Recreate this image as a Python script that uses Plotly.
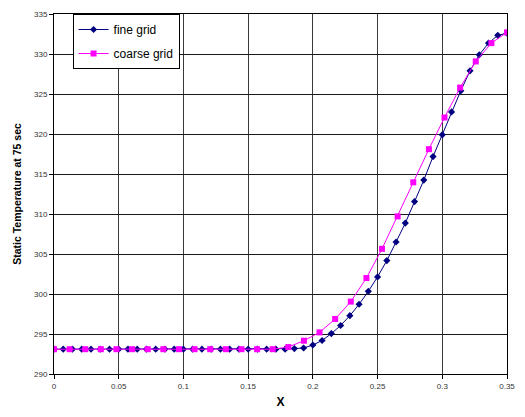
import plotly.graph_objects as go

# fine grid: 50 points, x = k/140
fine_x = [k / 140 for k in range(50)]
fine_y = [293.1] * 26 + [293.18, 293.25, 293.62, 294.19, 295.05, 296.06, 297.29, 298.72,
                         300.34, 302.14, 304.18, 306.5, 308.86, 311.55, 314.24, 317.18,
                         319.9, 322.76, 325.4, 327.9, 329.9, 331.36, 332.33, 332.6]

# coarse grid: 30 points, x = k*0.35/29
coarse_x = [k * 0.35 / 29 for k in range(30)]
coarse_y = [293.1] * 15 + [293.37, 294.16, 295.2, 296.88, 299.05, 302.0, 305.65, 309.7,
                           313.96, 318.1, 322.06, 325.8, 329.07, 331.36, 332.7]

x_ticks = [0, 0.05, 0.1, 0.15, 0.2, 0.25, 0.3, 0.35]
x_tick_labels = ["0", "0.05", "0.1", "0.15", "0.2", "0.25", "0.3", "0.35"]
y_ticks = list(range(290, 336, 5))

fig = go.Figure()
fig.add_trace(go.Scatter(
    x=fine_x, y=fine_y, mode="lines+markers", name="fine grid",
    line=dict(color="#000080", width=1),
    marker=dict(symbol="diamond", size=5.5, color="#000080"),
    legendgroup="a"))
fig.add_trace(go.Scatter(
    x=coarse_x, y=coarse_y, mode="lines+markers", name="coarse grid",
    line=dict(color="#FF00FF", width=1),
    marker=dict(symbol="square", size=6, color="#FF00FF"),
    legendgroup="b"))

font_family = "Liberation Sans, Arial, sans-serif"
fig.update_layout(
    width=525, height=417,
    margin=dict(l=54, r=16, t=10, b=39),
    paper_bgcolor="white", plot_bgcolor="white",
    font=dict(family=font_family, color="#000"),
    showlegend=True,
    legend=dict(x=0.041, y=1.0, xanchor="left", yanchor="top",
                bgcolor="white", bordercolor="black", borderwidth=1,
                font=dict(size=12, family=font_family, color="#000"),
                tracegroupgap=5, itemwidth=30),
    xaxis=dict(range=[0, 0.35], tickvals=x_ticks, ticktext=x_tick_labels,
               showgrid=True, gridcolor="#3a3a3a", gridwidth=1,
               showline=True, linecolor="black", linewidth=1, mirror=True,
               ticks="outside", ticklen=4, tickcolor="black",
               tickfont=dict(size=8, color="#333"), zeroline=False,
               title=dict(text="<b>X</b>", font=dict(size=12), standoff=8)),
    yaxis=dict(range=[290, 335], tickvals=y_ticks,
               showgrid=True, gridcolor="#1a1a1a", gridwidth=1,
               showline=True, linecolor="black", linewidth=1, mirror=True,
               ticks="outside", ticklen=4, tickcolor="black",
               tickfont=dict(size=8, color="#333"), zeroline=False,
               title=dict(text="<b>Static Temperature at 75 sec</b>", font=dict(size=10.5), standoff=10)),
)
fig.write_html("out.html")
